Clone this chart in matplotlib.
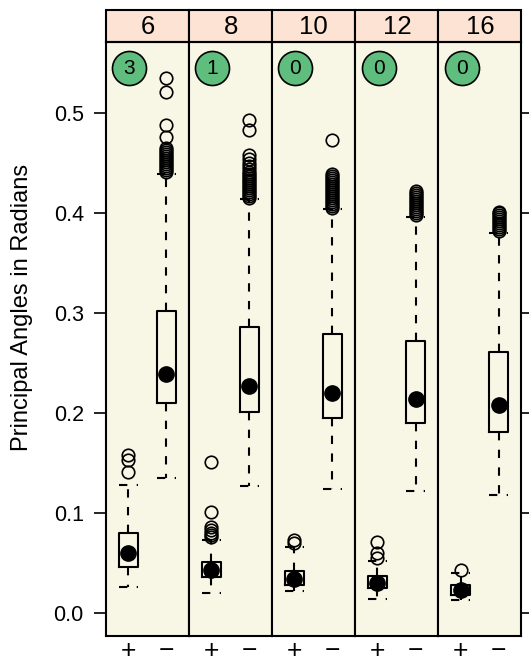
import numpy as np
import matplotlib.pyplot as plt
from matplotlib.patches import Rectangle

plt.rcParams['font.family'] = ['Liberation Sans', 'DejaVu Sans']

sizes = ['6', '8', '10', '12', '16']
counts = [3, 1, 0, 0, 0]
groups = ['+', '\u2212']

# "+" group
plus_q1 = [0.046, 0.036, 0.028, 0.025, 0.018]
plus_med = [0.060, 0.043, 0.034, 0.030, 0.023]
plus_q3 = [0.080, 0.051, 0.042, 0.037, 0.028]
plus_lo = [0.026, 0.020, 0.022, 0.014, 0.013]
plus_hi = [0.128, 0.073, 0.066, 0.052, 0.040]
plus_out = [
    [0.141, 0.153, 0.158],
    [0.076, 0.078, 0.080, 0.083, 0.086, 0.101, 0.151],
    [0.070, 0.073],
    [0.055, 0.060, 0.071],
    [0.043],
]

# "-" group
minus_q1 = [0.210, 0.201, 0.195, 0.190, 0.181]
minus_med = [0.239, 0.227, 0.220, 0.214, 0.208]
minus_q3 = [0.302, 0.286, 0.279, 0.272, 0.261]
minus_lo = [0.135, 0.127, 0.124, 0.122, 0.118]
minus_hi = [0.439, 0.414, 0.404, 0.396, 0.380]
minus_out = [
    [0.441, 0.443, 0.445, 0.447, 0.449, 0.451, 0.453, 0.455, 0.457, 0.459,
     0.461, 0.463, 0.465, 0.476, 0.488, 0.521, 0.535],
    [0.415, 0.417, 0.419, 0.421, 0.423, 0.425, 0.427, 0.429, 0.431, 0.433,
     0.435, 0.437, 0.439, 0.441, 0.444, 0.447, 0.450, 0.454, 0.458, 0.483, 0.493],
    [0.405, 0.407, 0.409, 0.411, 0.413, 0.415, 0.417, 0.419, 0.421, 0.423,
     0.425, 0.427, 0.429, 0.431, 0.433, 0.435, 0.437, 0.439, 0.473],
    [0.398, 0.400, 0.402, 0.404, 0.406, 0.408, 0.410, 0.412, 0.414, 0.416,
     0.418, 0.420, 0.422],
    [0.382, 0.384, 0.386, 0.388, 0.390, 0.392, 0.394, 0.396, 0.398, 0.400, 0.401],
]

strip_col = '#FDE3D3'
panel_col = '#F8F6E4'
green = '#5FBE7D'

fig, axes = plt.subplots(1, 5, sharey=True, figsize=(5.29, 6.69), dpi=100)
plt.subplots_adjust(left=106/529, right=521.5/529, bottom=1-636/669, top=1-42/669, wspace=0)

for i, ax in enumerate(axes):
    ax.set_facecolor(panel_col)
    stats = [
        dict(q1=plus_q1[i], med=plus_med[i], q3=plus_q3[i], whislo=plus_lo[i],
             whishi=plus_hi[i], fliers=plus_out[i]),
        dict(q1=minus_q1[i], med=minus_med[i], q3=minus_q3[i], whislo=minus_lo[i],
             whishi=minus_hi[i], fliers=minus_out[i]),
    ]
    ax.bxp(stats, positions=[1, 2], widths=0.5, capwidths=0.5,
           boxprops=dict(color='black', lw=1.5),
           whiskerprops=dict(color='black', lw=1.5, linestyle=(0, (4, 4.5))),
           capprops=dict(color='black', lw=1.5, linestyle=(0, (4, 4.5))),
           medianprops=dict(lw=0),
           flierprops=dict(marker='o', mfc='none', mec='black', ms=9, mew=1.2))
    ax.plot([1, 2], [plus_med[i], minus_med[i]], 'o', color='black', ms=11, zorder=5)

    # count badge
    ax.plot(1.03, 0.545, 'o', ms=24.5, mfc=green, mec='black', mew=1.2, zorder=6)
    ax.text(1.03, 0.544, str(counts[i]), ha='center', va='center', fontsize=15, zorder=7)

    # strip
    ax.add_patch(Rectangle((0, 1), 1, 32/594, transform=ax.transAxes, facecolor=strip_col,
                           edgecolor='black', lw=1.5, clip_on=False))
    ax.text(0.5, 1 + 15/594, sizes[i], transform=ax.transAxes, ha='center', va='center',
            fontsize=18.5)

    ax.set_xlim(0.42, 2.6)
    ax.set_ylim(-0.023, 0.571)
    ax.set_xticks([1, 2])
    ax.set_xticklabels(groups, fontsize=19)
    ax.tick_params(axis='x', length=0, pad=2.5)
    for s in ax.spines.values():
        s.set_linewidth(1.5)
    if i == 0:
        ax.tick_params(axis='y', left=True, right=False, length=9, width=1.2,
                       labelsize=15.5, pad=7)
    elif i == 4:
        ax.tick_params(axis='y', left=False, right=True, labelright=False,
                       length=9, width=1.2)
    else:
        ax.tick_params(axis='y', left=False, right=False)

axes[0].set_yticks([0.0, 0.1, 0.2, 0.3, 0.4, 0.5])
axes[0].set_yticklabels(['0.0', '0.1', '0.2', '0.3', '0.4', '0.5'])
fig.text(22/529, 1-307/669, 'Principal Angles in Radians', rotation=90,
         ha='center', va='center', fontsize=17)

plt.savefig('out.png', dpi=100)
